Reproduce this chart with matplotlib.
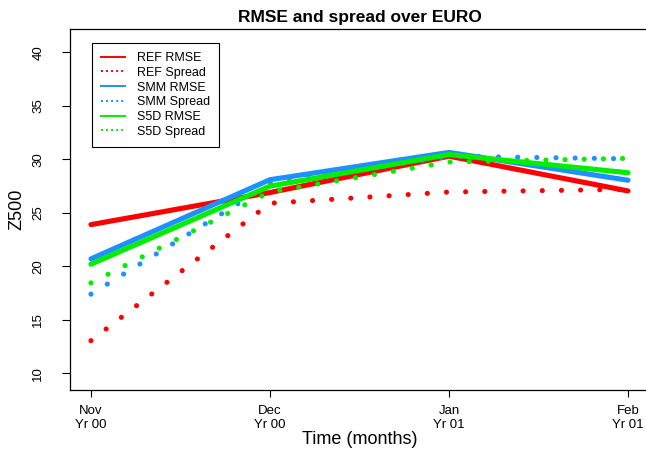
import matplotlib
matplotlib.use('Agg')
import matplotlib.pyplot as plt
from matplotlib.lines import Line2D

plt.rcParams['font.family'] = ['Liberation Sans', 'DejaVu Sans']

# values
months = ['Nov\nYr 00', 'Dec\nYr 00', 'Jan\nYr 01', 'Feb\nYr 01']
ref_rmse = [23.9, 26.9, 30.3, 27.05]
ref_spread = [13.05, 25.9, 26.95, 27.2]
smm_rmse = [20.7, 28.1, 30.65, 28.05]
smm_spread = [17.4, 27.7, 30.3, 30.05]
s5d_rmse = [20.2, 27.5, 30.45, 28.75]
s5d_spread = [18.45, 26.95, 29.75, 30.1]
yticks = [10, 15, 20, 25, 30, 35, 40]

red = '#FF0000'
blue = '#1E90FF'
green = '#00EE00'

W, H = 646, 451
fig = plt.figure(figsize=(W / 100, H / 100), dpi=100)
ax = fig.add_axes([70 / W, 1 - 390 / H, (649.5 - 70) / W, (390 - 29) / H])

x = range(len(months))
series = [(ref_rmse, ref_spread, red, 'REF'),
          (smm_rmse, smm_spread, blue, 'SMM'),
          (s5d_rmse, s5d_spread, green, 'S5D')]

handles = []
for rmse, spread, col, name in series:
    ax.plot(x, rmse, color=col, lw=3.7, solid_capstyle='round',
            solid_joinstyle='round')
    ax.plot(x, spread, color=col, lw=3.7, linestyle=(0, (0.01, 3.72)),
            dash_capstyle='round')
    handles.append(Line2D([], [], color=col, lw=1.4, label=name + ' RMSE'))
    handles.append(Line2D([], [], color=col, lw=1.4, linestyle=(0, (1, 1.6)),
                          label=name + ' Spread'))

ax.set_xlim(-0.117, 3.12)
ax.set_ylim(8.44, 42.19)
ax.set_xticks(list(x))
ax.set_xticklabels(months, fontsize=9.5, linespacing=1.15)
ax.set_yticks(yticks)
ax.set_yticklabels([str(v) for v in yticks], rotation=90, va='center',
                   fontsize=9.5)
ax.tick_params(axis='x', length=5, width=0.8, pad=6)
ax.tick_params(axis='y', length=5.5, width=0.8, pad=13)
for sp in ax.spines.values():
    sp.set_linewidth(0.9)

ax.set_title('RMSE and spread over EURO', fontweight='bold', fontsize=12.5,
             pad=5)
fig.text(17 / W, 1 - 209.5 / H, 'Z500', rotation=90, ha='center',
         va='center', fontsize=13)
fig.text(359.75 / W, 1 - 439 / H, 'Time (months)', ha='center',
         va='center', fontsize=13)

leg = ax.legend(handles=handles, loc='upper left',
                bbox_to_anchor=(91.7 / W, 1 - 42.7 / H),
                bbox_transform=fig.transFigure, borderaxespad=0,
                fancybox=False, edgecolor='black', framealpha=1,
                fontsize=9, handlelength=1.95, handletextpad=0.9,
                borderpad=0.75, labelspacing=0.22)
leg.get_frame().set_linewidth(0.8)

fig.savefig('out.png', dpi=100)
